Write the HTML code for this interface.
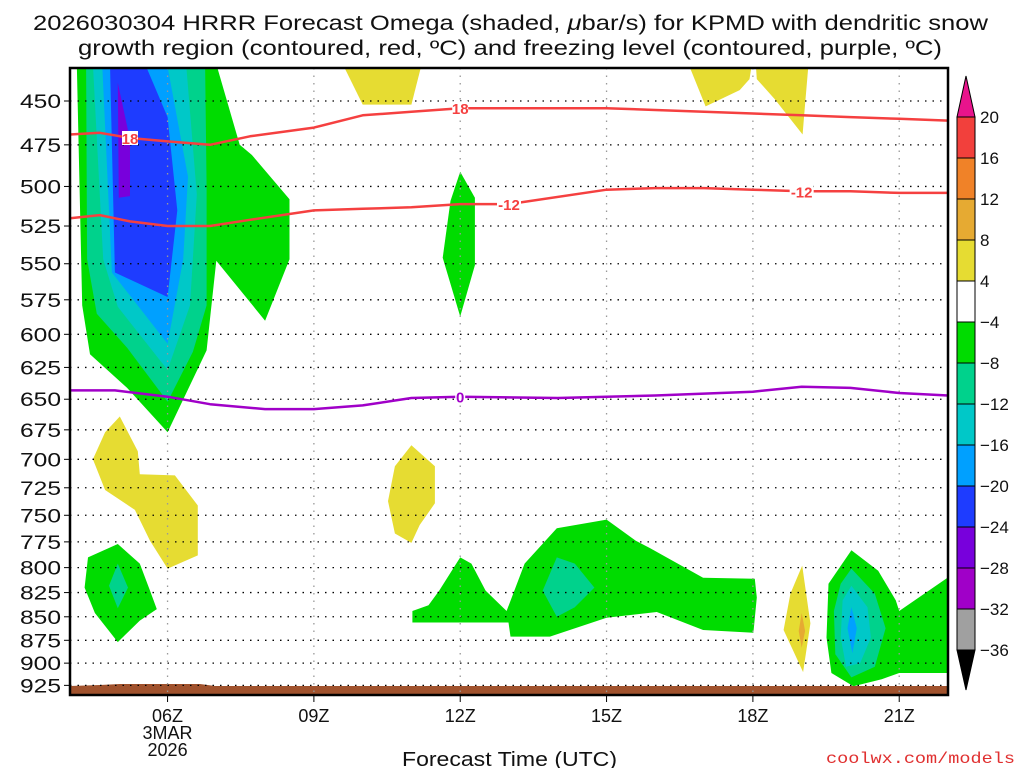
<!DOCTYPE html>
<html><head><meta charset="utf-8">
<style>
html,body{margin:0;padding:0;background:#fff;width:1024px;height:768px;overflow:hidden}
svg{display:block;font-family:"Liberation Sans",sans-serif}
</style></head>
<body>
<svg id="chart" width="1024" height="768" viewBox="0 0 1024 768" xmlns="http://www.w3.org/2000/svg">
<text x="33" y="30" font-size="21" textLength="955" lengthAdjust="spacingAndGlyphs" fill="#111">2026030304 HRRR Forecast Omega (shaded, <tspan font-style="italic">μ</tspan>bar/s) for KPMD with dendritic snow</text>
<text x="78" y="55" font-size="21" textLength="864" lengthAdjust="spacingAndGlyphs" fill="#111">growth region (contoured, red, ºC) and freezing level (contoured, purple, ºC)</text>
<defs><clipPath id="plotclip"><rect x="70" y="68" width="878" height="627"/></clipPath></defs>
<g id="fills" clip-path="url(#plotclip)"></g>
<g id="grid"></g>
<g id="lines" clip-path="url(#plotclip)"></g>
<rect x="70" y="68" width="878" height="627" fill="none" stroke="#000" stroke-width="2.5"/>
<g id="axes"></g>
<g id="cbar"></g>
<text x="402" y="766" font-size="20" textLength="215" lengthAdjust="spacingAndGlyphs" fill="#111">Forecast Time (UTC)</text>
<text x="826" y="763" font-size="16" textLength="189" lengthAdjust="spacingAndGlyphs" fill="#e03030" font-family="Liberation Mono, monospace">coolwx.com/models</text>
</svg>
<script>
// ---- data (hour UTC, pressure hPa) ----
const pressureTicks=[450,475,500,525,550,575,600,625,650,675,700,725,750,775,800,825,850,875,900,925];
const hourTicks=[6,9,12,15,18,21];
const hourTickLabels=["06Z","09Z","12Z","15Z","18Z","21Z"];
const cbarLevels=[20,16,12,8,4,-4,-8,-12,-16,-20,-24,-28,-32,-36];
const cbarColors=["#f2403c","#f08228","#e6aa32","#e6dc32","#ffffff","#00dc00","#00d28c","#00c8c8","#00a0ff","#1e3cff","#7800dc","#a000c8","#a0a0a0"];
const GREEN="#00dc00",TEAL="#00d28c",CYAN="#00c8c8",LBLUE="#00a0ff",BLUE="#1e3cff",PURP="#7800dc",YEL="#e6dc32",ORG="#e6aa32";
const regionColors=[GREEN,TEAL,CYAN,LBLUE,BLUE,PURP,YEL,YEL,YEL,GREEN,YEL,GREEN,TEAL,YEL,GREEN,TEAL,YEL,ORG,GREEN,TEAL,CYAN,LBLUE];
const regions=[
 [[4.14,430],[7.0,430],[7.48,475],[7.73,481],[8.5,508],[8.5,547],[8.0,590],[7.0,548],[6.8,612],[6.0,677],[5.17,641],[4.41,615],[4.25,579]],
 [[4.33,430],[6.77,430],[6.8,500],[6.8,579],[6.52,613],[6.0,652],[5.17,610],[4.55,585],[4.35,547]],
 [[4.47,430],[6.38,430],[6.6,505],[6.46,579],[6.0,627],[4.98,580],[4.68,547]],
 [[4.66,430],[5.99,430],[6.42,494],[6.32,547],[6.0,607],[4.86,556]],
 [[4.82,430],[5.54,430],[6.0,459],[6.2,515],[6.0,573],[4.92,556]],
 [[4.98,440],[5.23,472],[5.23,506],[5.0,507]],
 [[9.59,430],[11.21,430],[11.0,452],[10.0,452]],
 [[16.68,430],[17.98,430],[17.93,438],[17.73,444],[17.03,453]],
 [[18.06,430],[19.14,430],[19.06,455],[19.02,469],[18.45,449],[18.08,438]],
 [[12.0,491],[12.3,507],[12.3,551],[12.0,587],[11.64,546],[11.8,509]],
 [[5.02,664],[5.39,693],[5.43,713],[6.15,714],[6.62,741],[6.62,788],[6.0,801],[5.64,774],[5.33,745],[4.72,727],[4.47,700],[4.72,677]],
 [[4.98,777],[5.43,796],[5.64,823],[5.78,842],[5.43,854],[4.98,877],[4.51,846],[4.3,820],[4.37,790]],
 [[4.98,796],[5.19,820],[4.98,841],[4.8,818]],
 [[11.0,688],[11.48,706],[11.48,739],[11.17,759],[11.0,776],[10.66,767],[10.52,737],[10.66,706]],
 [[11.02,844],[11.35,838],[11.57,823],[12.0,790],[12.23,796],[12.52,823],[12.95,844],[13.32,796],[13.98,762],[15.0,754],[15.6,774],[15.89,781],[16.98,810],[18.04,811],[18.08,830],[18.01,867],[16.98,864],[16.03,845],[15.0,851],[13.84,871],[13.03,871],[12.99,856],[11.02,856]],
 [[13.98,790],[14.35,796],[14.75,820],[14.35,840],[13.98,850],[13.69,823]],
 [[19.01,798],[19.18,857],[19.03,910],[18.63,864],[18.77,826]],
 [[19.0,846],[19.07,865],[19.0,883],[18.94,865]],
 [[20.02,783],[20.57,803],[20.93,833],[21.0,844],[21.99,810],[21.99,911],[21.0,911],[20.64,918],[20.06,926],[19.61,911],[19.51,872],[19.55,816]],
 [[20.02,801],[20.5,826],[20.72,862],[20.5,904],[20.02,916],[19.69,890],[19.66,844],[19.8,816]],
 [[20.02,818],[20.35,840],[20.42,872],[20.2,900],[19.91,904],[19.8,872],[19.84,833]],
 [[20.02,840],[20.13,862],[20.04,889],[19.94,862]]
];
const lineHours=[4,4.61,5.23,6,6.87,7.69,9,10,11,12,13,15,16,17,18,19,20,21,22];
const minus18Pressure=[469,468,471,473,475,470,465,458,456,454,454,454,455,456,457,458,459,460,461];
const minus12Pressure=[520,518,522,525,525,521,515,514,513,511,511,502,501,501,502,503,503,504,504];
const zeroHours=[4,4.92,6,6.87,8,9,10,11,12,14,16,18,19,20,21,22];
const zeroPressure=[643,643,648,654,658,658,655,649,648,649,647,644,640,641,645,647];

// ---- axes ----
const L=70,R=948,T=68,B=695;
const X=h=>L+(h-4)*(R-L)/18;
const Y=p=>101+811*Math.log(p/450);
const NS="http://www.w3.org/2000/svg";
function mk(tag,parent,attrs){const e=document.createElementNS(NS,tag);for(const k in attrs)e.setAttribute(k,attrs[k]);parent.appendChild(e);return e;}
const fills=document.getElementById('fills'),grid=document.getElementById('grid'),lines=document.getElementById('lines'),axes=document.getElementById('axes'),cbar=document.getElementById('cbar');

regions.forEach((poly,i)=>{
 const e=mk('polygon',fills,{points:poly.map(q=>X(q[0]).toFixed(1)+','+Y(q[1]).toFixed(1)).join(' '),fill:regionColors[i]});
 
 
});
const g=mk('path',fills,{d:`M70,686 L100,685 L120,684 L200,684 L215,686 L948,686 L948,695 L70,695 Z`,fill:'#a0522d'});



pressureTicks.forEach(p=>{
 const y=Y(p);
 const l=mk('line',grid,{x1:L,x2:R,y1:y,y2:y,stroke:'#000','stroke-width':1.3,'stroke-dasharray':'1.5 6'});
 
 
 const tk=mk('line',axes,{x1:L-6,x2:L,y1:y,y2:y,stroke:'#000','stroke-width':1});
 
 
 const t=mk('text',axes,{x:20,y:y+7,'font-size':19,textLength:41,lengthAdjust:'spacingAndGlyphs',fill:'#111'});
 t.textContent=p;
 
 
});
hourTicks.forEach((h,i)=>{
 const x=X(h);
 const l=mk('line',grid,{x1:x,x2:x,y1:T,y2:B,stroke:'#999','stroke-width':1.3,'stroke-dasharray':'1.5 6'});
 
 
 const tk=mk('line',axes,{x1:x,x2:x,y1:B,y2:B+7,stroke:'#000','stroke-width':1});
 
 
 const t=mk('text',axes,{x:x,y:722,'font-size':18,'text-anchor':'middle',fill:'#111'});
 t.textContent=hourTickLabels[i];
 
 
});
const d1=mk('text',axes,{x:X(6),y:739,'font-size':18,'text-anchor':'middle',fill:'#111'});d1.textContent='3MAR';


const d2=mk('text',axes,{x:X(6),y:756,'font-size':18,'text-anchor':'middle',fill:'#111'});d2.textContent='2026';



function drawLine(hs,ps,color,name,labels){
 const pts=hs.map((h,i)=>X(h).toFixed(1)+','+Y(ps[i]).toFixed(1)).join(' ');
 const e=mk('polyline',lines,{points:pts,fill:'none',stroke:color,'stroke-width':2.5,'stroke-linejoin':'round'});
 
 
 labels.forEach(lb=>{
  const i=lb.i,x=X(hs[i]),y=Y(ps[i]);
  mk('rect',lines,{x:x-lb.w/2,y:y-7,width:lb.w,height:14,fill:'#fff'});
  const t=mk('text',lines,{x:x,y:y+6,'font-size':15,'font-weight':'bold','text-anchor':'middle',fill:color});
  t.textContent=lb.t;
  
  
 });
}
drawLine(lineHours,minus18Pressure,'#f54040','contour-minus18',[{i:2,t:'18',w:16},{i:9,t:'18',w:16}]);
drawLine(lineHours,minus12Pressure,'#f54040','contour-minus12',[{i:10,t:'-12',w:24},{i:15,t:'-12',w:24}]);
drawLine(zeroHours,zeroPressure,'#a000c8','freezing-level-0C',[{i:8,t:'0',w:10}]);

const cx=957,cw=18,c0=117,step=41;
const tri1=mk('polygon',cbar,{points:`${cx},${c0} ${cx+cw/2},76 ${cx+cw},${c0}`,fill:'#e8148c',stroke:'#000','stroke-width':1});


cbarColors.forEach((c,i)=>{
 const r=mk('rect',cbar,{x:cx,y:c0+i*step,width:cw,height:step,fill:c,stroke:'#000','stroke-width':1});
 
 
});
const yb=c0+cbarColors.length*step;
const tri2=mk('polygon',cbar,{points:`${cx},${yb} ${cx+cw/2},${yb+40} ${cx+cw},${yb}`,fill:'#000',stroke:'#000','stroke-width':1});


cbarLevels.forEach((v,i)=>{
 const t=mk('text',cbar,{x:980,y:c0+i*step+6,'font-size':17,fill:'#111'});
 t.textContent=v<0?'\u2212'+(-v):String(v);
 
 
});
</script>
</body></html>
